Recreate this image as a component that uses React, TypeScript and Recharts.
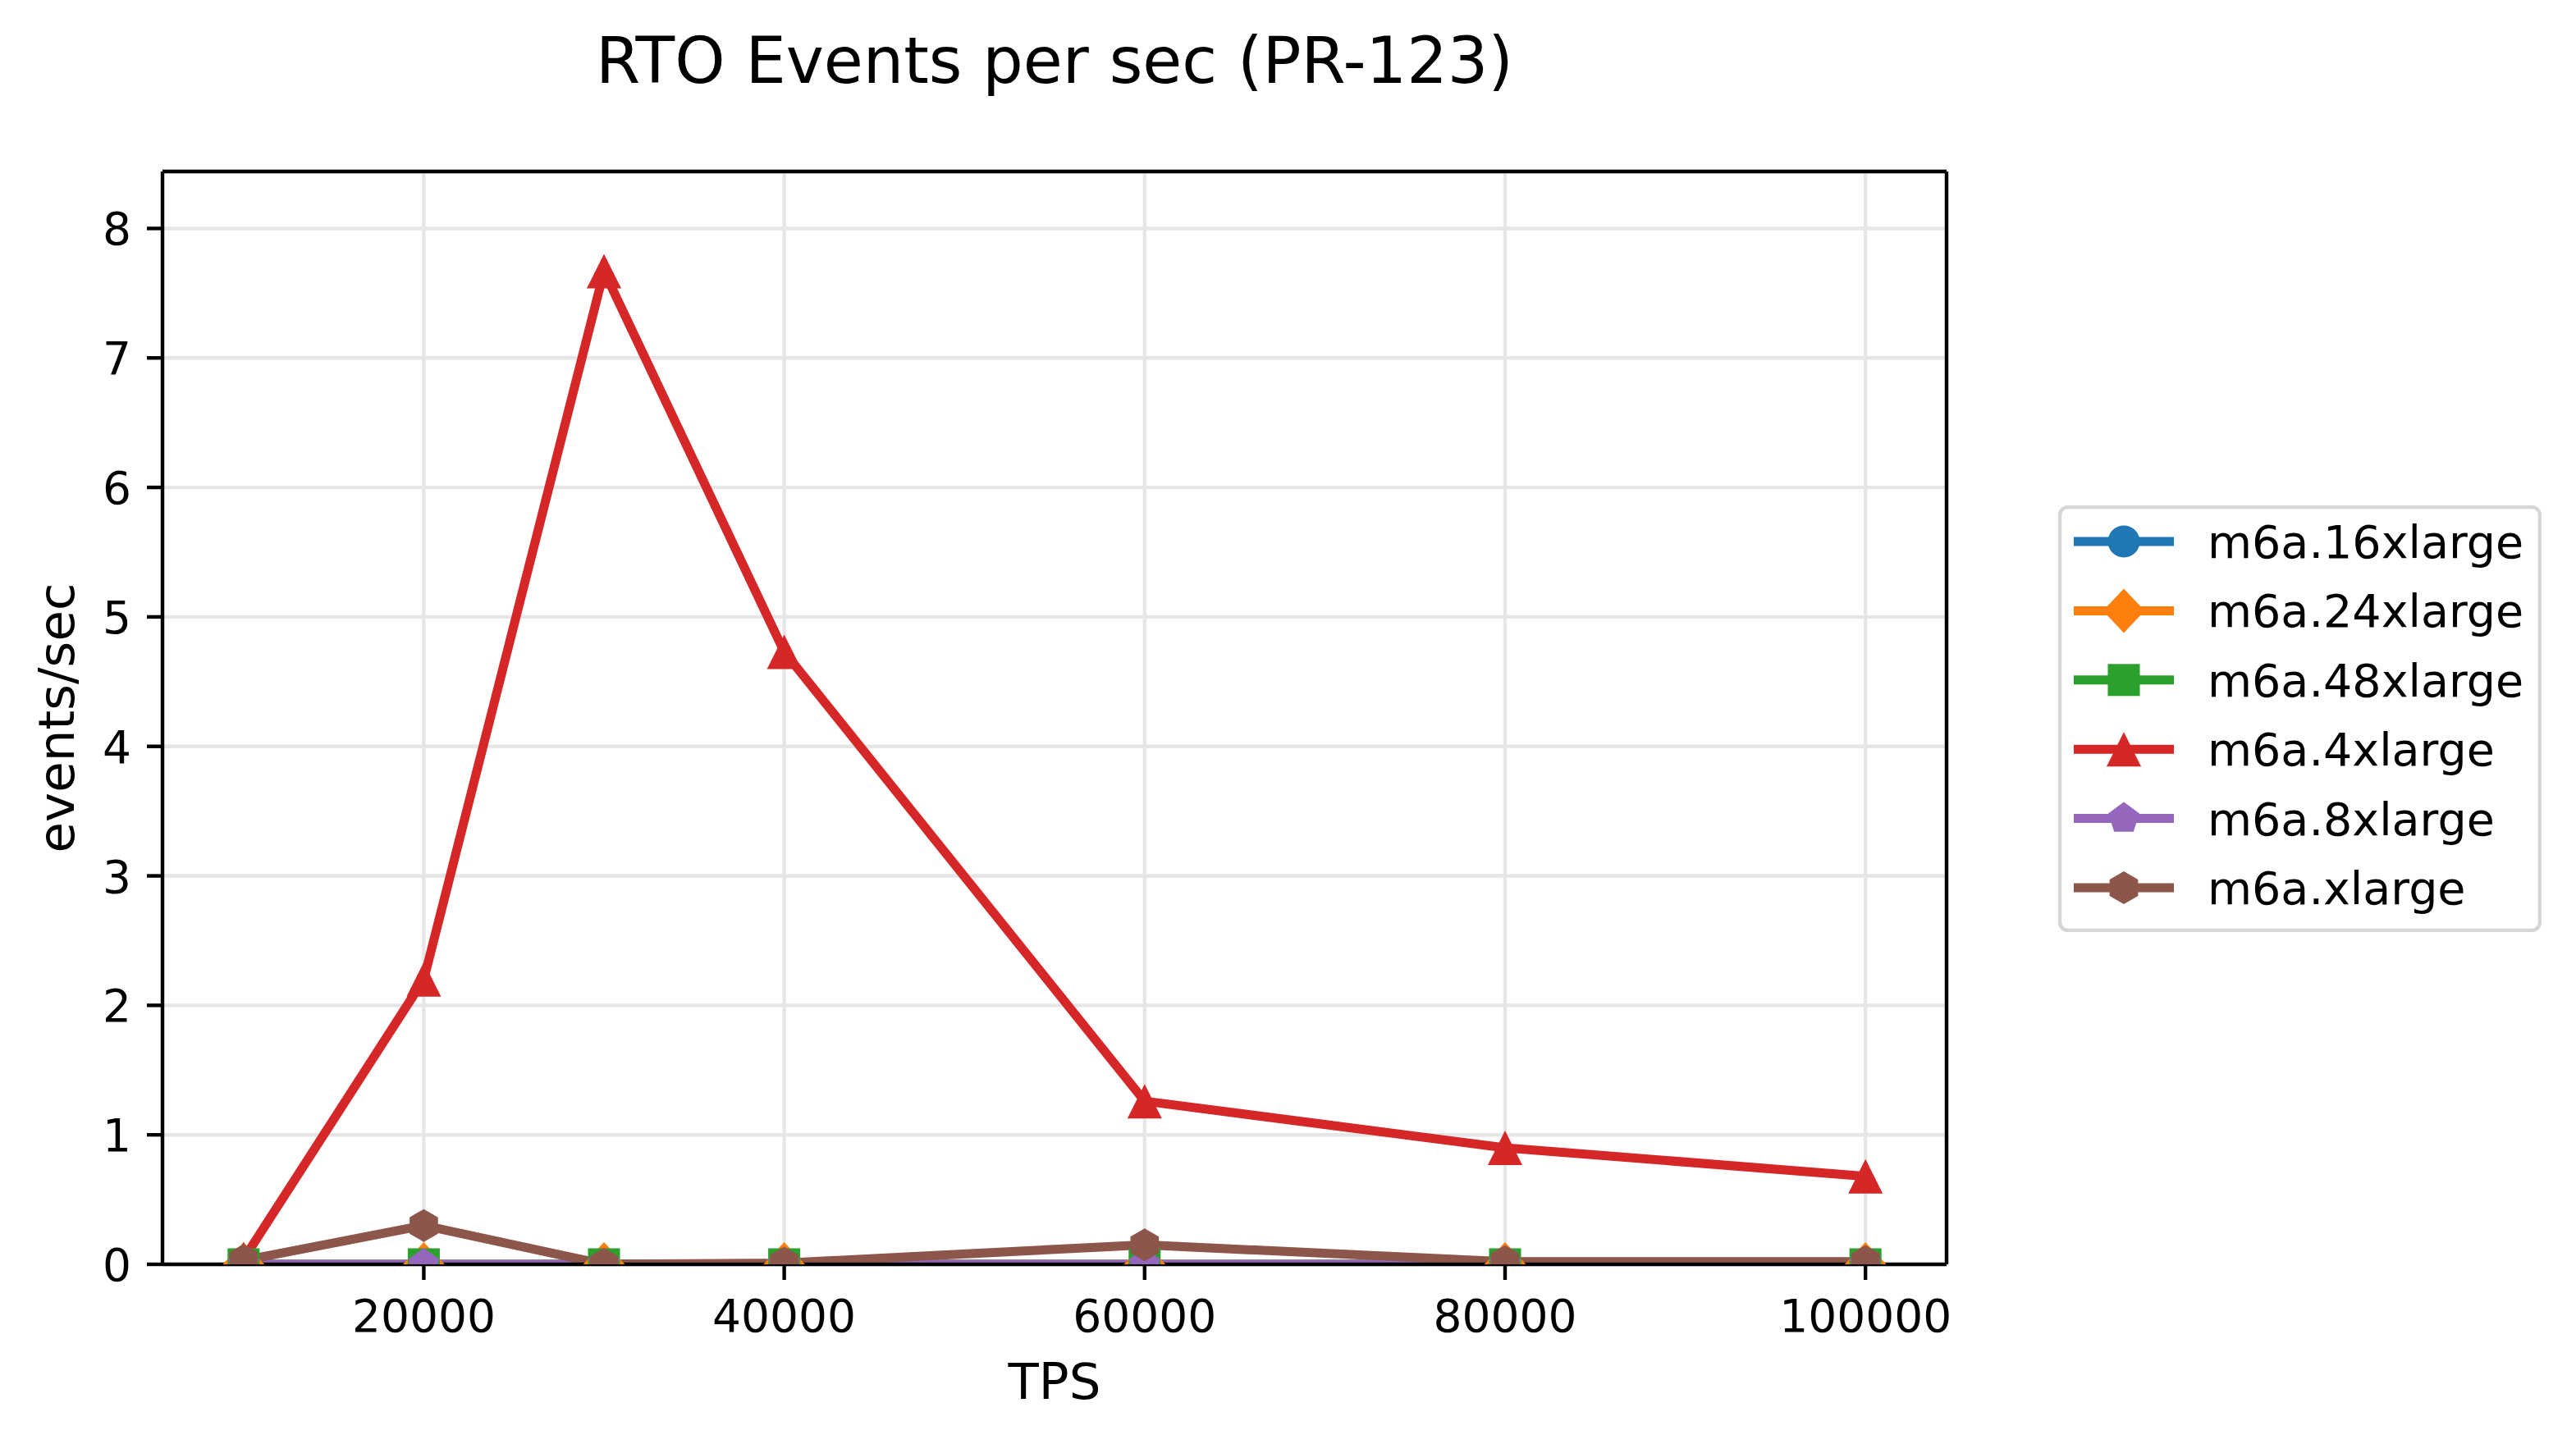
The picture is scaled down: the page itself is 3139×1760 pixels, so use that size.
import React from 'react';
import { LineChart, Line, XAxis, YAxis, CartesianGrid, Legend, ReferenceLine } from 'recharts';

// TPS levels on the x axis
const tpsLevels = [10000, 20000, 30000, 40000, 60000, 80000, 100000];

// RTO events per second for each instance type
const m6a16xlarge = [0, 0, 0, 0, 0, 0, 0];
const m6a24xlarge = [0, 0, 0, 0, 0, 0, 0];
const m6a48xlarge = [0, 0, 0, 0, 0, 0, 0];
const m6a4xlarge = [0.04, 2.2, 7.67, 4.73, 1.26, 0.9, 0.68];
const m6a8xlarge = [0, 0, 0, 0, 0, 0, 0];
const m6axlarge = [0.03, 0.3, 0, 0.01, 0.15, 0.02, 0.02];

const xTicks = [20000, 40000, 60000, 80000, 100000];
const yTicks = [0, 1, 2, 3, 4, 5, 6, 7, 8];

const X_DOMAIN: [number, number] = [5500, 104500];
const Y_DOMAIN: [number, number] = [0, 8.44];

const WIDTH = 3139;
const HEIGHT = 1760;
const PLOT_LEFT = 198;
const PLOT_TOP = 209;
const PLOT_RIGHT = 2372;
const PLOT_BOTTOM = 1541;
const FONT = '"DejaVu Sans", sans-serif';

type Shape = 'circle' | 'diamond' | 'square' | 'triangle' | 'pentagon' | 'hexagon';

interface Series {
  id: string;
  name: string;
  color: string;
  shape: Shape;
  values: number[];
}

const series: Series[] = [
  { id: 's16', name: 'm6a.16xlarge', color: '#1f77b4', shape: 'circle', values: m6a16xlarge },
  { id: 's24', name: 'm6a.24xlarge', color: '#ff7f0e', shape: 'diamond', values: m6a24xlarge },
  { id: 's48', name: 'm6a.48xlarge', color: '#2ca02c', shape: 'square', values: m6a48xlarge },
  { id: 's4', name: 'm6a.4xlarge', color: '#d62728', shape: 'triangle', values: m6a4xlarge },
  { id: 's8', name: 'm6a.8xlarge', color: '#9467bd', shape: 'pentagon', values: m6a8xlarge },
  { id: 's1', name: 'm6a.xlarge', color: '#8c564b', shape: 'hexagon', values: m6axlarge },
];

const chartData = tpsLevels.map((tps, i) => {
  const row: Record<string, number> = { tps };
  series.forEach((s) => {
    row[s.id] = s.values[i];
  });
  return row;
});

function polygon(cx: number, cy: number, r: number, sides: number) {
  const pts: string[] = [];
  for (let k = 0; k < sides; k++) {
    const a = (-90 + (360 / sides) * k) * (Math.PI / 180);
    pts.push(`${cx + r * Math.cos(a)},${cy + r * Math.sin(a)}`);
  }
  return pts.join(' ');
}

function Marker({ shape, color, cx, cy }: { shape: Shape; color: string; cx: number; cy: number }) {
  switch (shape) {
    case 'circle':
      return <circle cx={cx} cy={cy} r={19.5} fill={color} />;
    case 'diamond':
      return (
        <polygon
          points={`${cx},${cy - 27} ${cx + 25.5},${cy} ${cx},${cy + 27} ${cx - 25.5},${cy}`}
          fill={color}
        />
      );
    case 'square':
      return <rect x={cx - 19.5} y={cy - 19.5} width={39} height={39} fill={color} />;
    case 'triangle':
      return (
        <polygon
          points={`${cx},${cy - 21} ${cx + 21},${cy + 21} ${cx - 21},${cy + 21}`}
          fill={color}
        />
      );
    case 'pentagon':
      return <polygon points={polygon(cx, cy, 20, 5)} fill={color} />;
    default:
      return <polygon points={polygon(cx, cy, 20, 6)} fill={color} />;
  }
}

const renderXTick = (props: any) => {
  const { x, y, payload } = props;
  return (
    <text x={x} y={y} dy={44} textAnchor="middle" fontSize={55} fontFamily={FONT} fill="#000">
      {payload.value}
    </text>
  );
};

const renderYTick = (props: any) => {
  const { x, y, payload } = props;
  return (
    <text x={x} y={y} dy={20} textAnchor="end" fontSize={55} fontFamily={FONT} fill="#000">
      {payload.value}
    </text>
  );
};

const renderXLabel = () => (
  <text
    x={(PLOT_LEFT + PLOT_RIGHT) / 2}
    y={1705}
    textAnchor="middle"
    fontSize={61}
    fontFamily={FONT}
    fill="#000"
  >
    TPS
  </text>
);

const renderYLabel = () => {
  const cy = (PLOT_TOP + PLOT_BOTTOM) / 2;
  return (
    <text
      x={90}
      y={cy}
      transform={`rotate(-90, 90, ${cy})`}
      textAnchor="middle"
      fontSize={61}
      fontFamily={FONT}
      fill="#000"
    >
      events/sec
    </text>
  );
};

const LEGEND_W = 589;
const LEGEND_H = 520;

const renderLegend = () => (
  <svg width={LEGEND_W} height={LEGEND_H}>
    <rect
      x={2}
      y={2}
      width={LEGEND_W - 4}
      height={LEGEND_H - 4}
      rx={10}
      fill="#fff"
      stroke="#d6d6d6"
      strokeWidth={4.4}
    />
    {series.map((s, i) => {
      const cy = 44 + i * 84.4;
      return (
        <g key={s.id}>
          <line x1={19} x2={141} y1={cy} y2={cy} stroke={s.color} strokeWidth={11} />
          <Marker shape={s.shape} color={s.color} cx={80} cy={cy} />
          <text x={182} y={cy + 20} fontSize={55.5} fontFamily={FONT} fill="#000">
            {s.name}
          </text>
        </g>
      );
    })}
  </svg>
);

export default function App() {
  const axisStroke = { stroke: '#000', strokeWidth: 4.4 };
  return (
    <div
      style={{
        position: 'absolute',
        left: 0,
        top: 0,
        width: WIDTH,
        height: HEIGHT,
        background: '#fff',
        fontFamily: FONT,
      }}
    >
      <div
        style={{
          position: 'absolute',
          left: PLOT_LEFT,
          top: 35,
          width: PLOT_RIGHT - PLOT_LEFT,
          textAlign: 'center',
          fontSize: 78,
          lineHeight: '78px',
          color: '#000',
        }}
      >
        RTO Events per sec (PR-123)
      </div>
      <LineChart
        width={WIDTH}
        height={HEIGHT}
        data={chartData}
        margin={{ top: PLOT_TOP, right: WIDTH - PLOT_RIGHT, bottom: 0, left: 0 }}
      >
        <CartesianGrid stroke="#e6e6e6" strokeWidth={4.4} />
        <XAxis
          dataKey="tps"
          type="number"
          domain={X_DOMAIN}
          ticks={xTicks}
          interval={0}
          height={HEIGHT - PLOT_BOTTOM}
          tickSize={19}
          tickMargin={19}
          axisLine={axisStroke}
          tickLine={axisStroke}
          tick={renderXTick}
          label={renderXLabel}
          allowDataOverflow
        />
        <YAxis
          type="number"
          domain={Y_DOMAIN}
          ticks={yTicks}
          interval={0}
          width={PLOT_LEFT}
          tickSize={19}
          tickMargin={19}
          axisLine={axisStroke}
          tickLine={axisStroke}
          tick={renderYTick}
          label={renderYLabel}
          allowDataOverflow
        />
        <Legend
          layout="vertical"
          align="center"
          verticalAlign="middle"
          wrapperStyle={{ left: 2508, top: 616, width: LEGEND_W, height: LEGEND_H }}
          content={renderLegend}
        />
        {series.map((s) => (
          <Line
            key={s.id}
            dataKey={s.id}
            name={s.name}
            type="linear"
            stroke={s.color}
            strokeWidth={11}
            strokeLinejoin="round"
            isAnimationActive={false}
            activeDot={false}
            dot={(props: any) => (
              <Marker
                key={`${s.id}-${props.index}`}
                shape={s.shape}
                color={s.color}
                cx={props.cx}
                cy={props.cy}
              />
            )}
          />
        ))}
        {/* top and right frame edges */}
        <ReferenceLine y={Y_DOMAIN[1]} stroke="#000" strokeWidth={4.4} ifOverflow="visible" />
        <ReferenceLine x={X_DOMAIN[1]} stroke="#000" strokeWidth={4.4} ifOverflow="visible" />
      </LineChart>
    </div>
  );
}
